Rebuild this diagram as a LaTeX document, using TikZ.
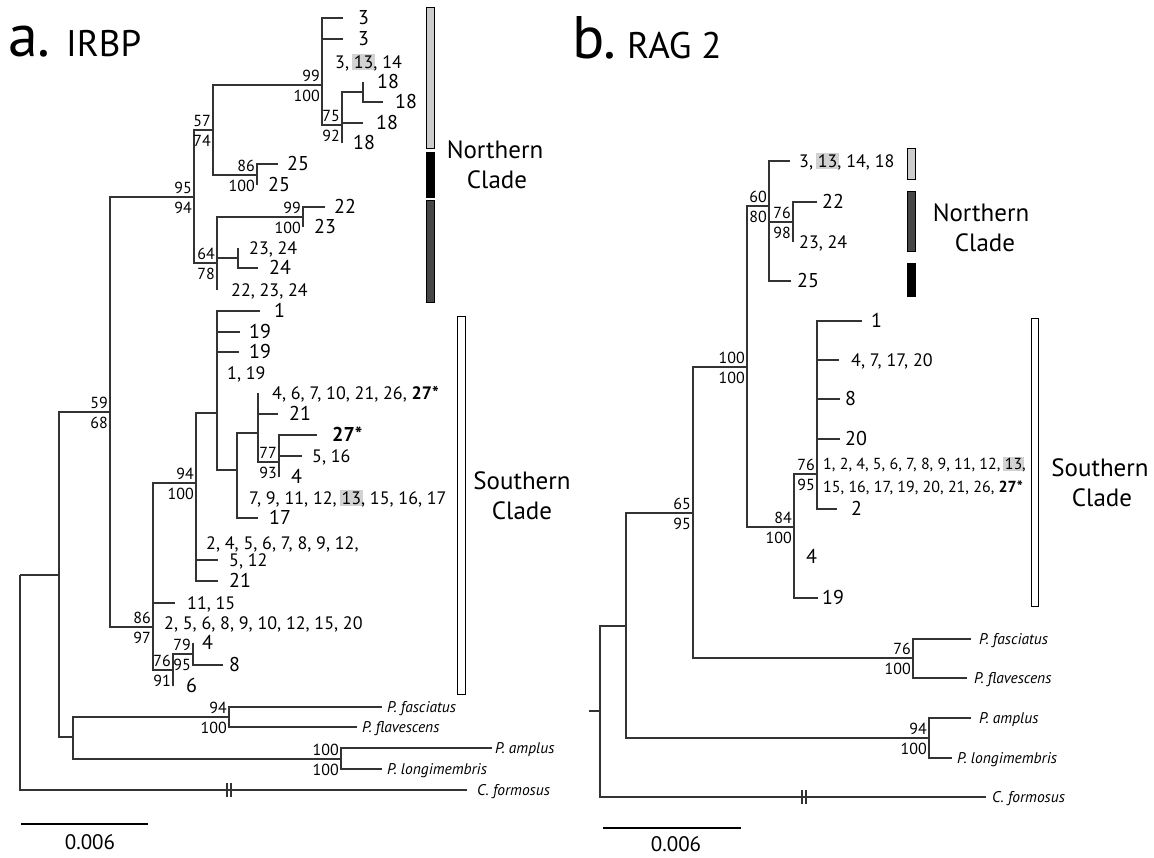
\documentclass[tikz,border=0pt]{standalone}
\usepackage{fontspec}
\setmainfont{PT Sans}
\definecolor{hlgray}{HTML}{D2D2D2}
\definecolor{lgray}{HTML}{CCCCCC}
\definecolor{dgray}{HTML}{464646}
\definecolor{brc}{HTML}{333333}
\newcommand\hlx[1]{\hspace{-1.5pt}{\setlength{\fboxsep}{1.5pt}\colorbox{hlgray}{#1}}\hspace{-1.5pt}}
\newcommand\Lg[1]{{\fontsize{20}{22}\selectfont #1}}
% leaf with branch: parent, name, tipx, y, labelx, text
\newcommand\tleaf[6]{\coordinate (#2t) at (#3,#4); \node[lf] (#2) at (#5,#4) {#6}; \draw[br] (#1) |- (#2t);}
% zero-length leaf: parent, name, labelx, y, text
\newcommand\tzero[5]{\node[lf] (#2) at (#3,#4) {#5}; \draw[br] (#1) -- (#1 |- #2);}
% species leaf
\newcommand\tspec[6]{\coordinate (#2t) at (#3,#4); \node[spc] (#2) at (#5,#4) {#6}; \draw[br] (#1) |- (#2t);}
% support values
\newcommand\tsup[3]{\node[bsu] (#1u) at ([xshift=-2pt,yshift=3pt]#1) {#2}; \node[bsd] (#1d) at ([xshift=-2pt,yshift=-5pt]#1) {#3};}
\begin{document}
\begin{tikzpicture}[x=1pt,y=-1pt,
  br/.style={line width=1.2pt, draw=brc},
  thk/.style={line width=2.4pt, draw=brc},
  lf/.style={anchor=west, inner sep=0pt, font=\fontsize{18}{20}\selectfont, text height=13pt, text depth=0pt},
  lftwo/.style={anchor=west, inner sep=0pt, align=left, font=\fontsize{16}{23}\selectfont},
  spc/.style={anchor=west, inner sep=0pt, font=\fontsize{15.5}{17}\selectfont\itshape, text height=10.8pt, text depth=0pt},
  bsu/.style={anchor=south east, inner sep=0pt, font=\fontsize{16}{17}\selectfont, text height=11.2pt, text depth=0pt},
  bsd/.style={anchor=north east, inner sep=0pt, font=\fontsize{16}{17}\selectfont, text height=11.2pt, text depth=0pt},
  clade/.style={anchor=base, inner sep=0pt, font=\fontsize{25}{28}\selectfont},
  bar/.style={line width=0.9pt, draw=black},
  sbar/.style={line width=1.5pt, draw=black},
  sclab/.style={anchor=base, inner sep=0pt, font=\fontsize{21}{23}\selectfont, text depth=0pt}
]
\fill[white] (0,0) rectangle (1154,857);
\useasboundingbox (0,0) rectangle (1154,857);

% ================= titles
\node[anchor=base west, inner sep=0pt, font=\fontsize{60}{60}\selectfont] (ta) at (8,56) {a.};
\node[anchor=base west, inner sep=0pt, font=\fontsize{37}{37}\selectfont] (tai) at (66,56) {IRBP};
\node[anchor=base west, inner sep=0pt, font=\fontsize{60}{60}\selectfont] (tb) at (572,58) {b.};
\node[anchor=base west, inner sep=0pt, font=\fontsize{37}{37}\selectfont] (tbi) at (627,58) {RAG 2};

% ================= panel a internal nodes
\coordinate (a0) at (20,575);
\coordinate (a1) at (59,575);
\coordinate (a59) at (110,412);
\coordinate (a95) at (194,197);
\coordinate (a57) at (213,130);
\coordinate (a99) at (322,85);
\coordinate (a75) at (342,125);
\coordinate (a18) at (363,92);
\coordinate (a86b) at (257,175);
\coordinate (a64) at (217,263);
\coordinate (a99b) at (303,217);
\coordinate (a2324) at (238,258);
\coordinate (a86) at (153,627);
\coordinate (a94) at (196,483);
\coordinate (asa) at (217,413);
\coordinate (ab) at (237,470);
\coordinate (ac) at (258,433);
\coordinate (ad) at (279,462);
\coordinate (a76) at (173,670);
\coordinate (a79) at (193,654);
\coordinate (aout) at (73,737);
\coordinate (afas) at (229,717);
\coordinate (aamp) at (341,759);

\draw[br] (a0) |- (a1);
\draw[br] (a1) |- (a59);
\draw[br] (a1) |- (aout);
\draw[br] (a59) |- (a95);
\draw[br] (a59) |- (a86);
\draw[br] (a95) |- (a57);
\draw[br] (a95) |- (a64);
\draw[br] (a57) |- (a99);
\draw[br] (a57) |- (a86b);
\draw[br] (a99) |- (a75);
\draw[br] (a75) |- (a18);
\draw[br] (a64) |- (a99b);
\draw[br] (a64) |- (a2324);
\draw[br] (a86) |- (a94);
\draw[br] (a86) |- (a76);
\draw[br] (a94) |- (asa);
\draw[br] (asa) |- (ab);
\draw[br] (ab) |- (ac);
\draw[br] (ac) |- (ad);
\draw[br] (a76) |- (a79);
\draw[br] (aout) |- (afas);
\draw[br] (aout) |- (aamp);

% leaves panel a
\tleaf{a99}{a3a}{343}{18}{358}{\Lg{3}}
\tleaf{a99}{a3b}{343}{39}{358}{\Lg{3}}
\tzero{a99}{a3c}{335}{62}{3, \hlx{13}, 14}
\tzero{a18}{a18a}{377}{82}{\Lg{18}}
\tleaf{a18}{a18b}{383}{102}{395}{\Lg{18}}
\tleaf{a75}{a18c}{363}{123}{376}{\Lg{18}}
\tzero{a75}{a18d}{353}{143}{\Lg{18}}
\tleaf{a86b}{a25a}{278}{164}{287}{\Lg{25}}
\tzero{a86b}{a25b}{268}{185}{\Lg{25}}
\tleaf{a99b}{a22}{325}{207}{334}{\Lg{22}}
\tzero{a99b}{a23}{314}{227}{\Lg{23}}
\tzero{a2324}{a2324l}{249}{248}{23, 24}
\tleaf{a2324}{a24}{258}{268}{269}{\Lg{24}}
\tzero{a64}{a222324}{231}{290}{22, 23, 24}
\tleaf{asa}{a1a}{260}{311}{274}{\Lg{1}}
\tleaf{asa}{a19a}{240}{332}{249}{\Lg{19}}
\tleaf{asa}{a19b}{239}{352}{249}{\Lg{19}}
\tzero{asa}{a119}{227}{373}{1, 19}
\tzero{ac}{a4627}{272}{393}{4, 6, 7, 10, 21, 26, \textbf{27*}}
\tleaf{ac}{a21a}{278}{414}{289}{\Lg{21}}
\tleaf{ad}{a27}{317}{435}{332}{\Lg{\textbf{27*}}}
\tleaf{ad}{a516}{302}{456}{312}{5, 16}
\tzero{ad}{a4a}{291}{477}{\Lg{4}}
\tzero{ab}{a79l}{249}{498}{7, 9, 11, 12, \hlx{13}, 15, 16, 17}
\tleaf{ab}{a17}{258}{518}{269}{\Lg{17}}
\tzero{a94}{a245}{206}{543}{2, 4, 5, 6, 7, 8, 9, 12,}
\tleaf{a94}{a512}{218}{560}{229}{5, 12}
\tleaf{a94}{a21b}{218}{581}{229}{\Lg{21}}
\tleaf{a86}{a1115}{175}{603}{187}{11, 15}
\tzero{a86}{a256}{164}{623}{2, 5, 6, 8, 9, 10, 12, 15, 20}
\tzero{a79}{a4b}{202}{643}{\Lg{4}}
\tleaf{a79}{a8}{223}{665}{229}{\Lg{8}}
\tzero{a76}{a6}{186}{686}{\Lg{6}}

\tspec{afas}{afasc}{382}{707}{387}{P. fasciatus}
\tspec{afas}{aflav}{357}{727}{362}{P. flavescens}
\tspec{aamp}{aampl}{492}{748}{495}{P. amplus}
\tspec{aamp}{alongi}{382}{769}{387}{P. longimembris}
\tspec{a0}{acfor}{467}{790}{477}{C. formosus}

% thick short segments
\draw[thk] (322,40) -- (322,60);
\draw[thk] (217,237) -- (217,258);
\draw[thk] (217,321) -- (217,334);
\draw[thk] (217,345) -- (217,372);
\draw[thk] (153,560) -- (153,603);
% break marks
\draw[br] (227,783) -- (227,797);
\draw[br] (231,783) -- (231,797);

% support panel a
\tsup{a95}{95}{94}
\tsup{a57}{57}{74}
\tsup{a99}{99}{100}
\tsup{a75}{75}{92}
\tsup{a86b}{86}{100}
\tsup{a64}{64}{78}
\tsup{a99b}{99}{100}
\tsup{a59}{59}{68}
\tsup{a94}{94}{100}
\tsup{ad}{77}{93}
\tsup{a86}{86}{97}
\tsup{a76}{76}{91}
\tsup{a79}{79}{95}
\tsup{afas}{94}{100}
\tsup{aamp}{100}{100}

% bars panel a
\draw[bar, fill=lgray] (426,7) rectangle (434,148);
\draw[bar, fill=black] (426,152) rectangle (434,197);
\draw[bar, fill=dgray] (426,200) rectangle (434,302);
\draw[bar, fill=white] (457,316) rectangle (465,694);
\node[clade] (anorth) at (495,158) {Northern};
\node[clade] (anorthc) at (497,188) {Clade};
\node[clade] (asouth) at (522,489) {Southern};
\node[clade] (asouthc) at (522,519) {Clade};

% scale bar a
\coordinate (sa1) at (21,824); \coordinate (sa2) at (148,824);
\draw[sbar] (sa1) -- (sa2);
\node[sclab] (sal) at (90,849) {0.006};

% ================= panel b
\coordinate (bstub) at (589,711);
\coordinate (b0) at (600,711);
\coordinate (b1) at (626,626);
\coordinate (b65) at (693,513);
\coordinate (b100) at (747,367);
\coordinate (b60) at (769,206);
\coordinate (b76a) at (793,222);
\coordinate (b84) at (794,527);
\coordinate (b76b) at (817,474);
\coordinate (bfas) at (913,658);
\coordinate (bamp) at (929,738);

\draw[br] (bstub) -- (b0);
\draw[br] (b0) |- (b1);
\draw[br] (b1) |- (b65);
\draw[br] (b1) |- (bamp);
\draw[br] (b65) |- (b100);
\draw[br] (b65) |- (bfas);
\draw[br] (b100) |- (b60);
\draw[br] (b100) |- (b84);
\draw[br] (b60) |- (b76a);
\draw[br] (b84) |- (b76b);

\tleaf{b60}{b3}{790}{161}{799}{3, \hlx{13}, 14, 18}
\tleaf{b76a}{b22}{817}{202}{822}{\Lg{22}}
\tzero{b76a}{b2324}{799}{242}{23, 24}
\tleaf{b60}{b25}{791}{281}{797}{\Lg{25}}
\tleaf{b76b}{b1l}{862}{321}{871}{\Lg{1}}
\tleaf{b76b}{b4717}{839}{360}{851}{4, 7, 17, 20}
\tleaf{b76b}{b8}{840}{399}{845}{\Lg{8}}
\tleaf{b76b}{b20}{840}{439}{845}{\Lg{20}}
\node[lftwo] (bbig) at (823,476) {1, 2, 4, 5, 6, 7, 8, 9, 11, 12, \hlx{13},\\15, 16, 17, 19, 20, 21, 26, \textbf{27*}};
\draw[br] (b76b) -- (b76b |- bbig);
\tleaf{b76b}{b2}{837}{509}{851}{\Lg{2}}
\tzero{b84}{b4}{806}{557}{\Lg{4}}
\tleaf{b84}{b19}{818}{598}{822}{\Lg{19}}

\tspec{bfas}{bfasc}{971}{639}{979}{P. fasciatus}
\tspec{bfas}{bflav}{967}{678}{974}{P. flavescens}
\tspec{bamp}{bampl}{971}{718}{979}{P. amplus}
\tspec{bamp}{blongi}{952}{758}{957}{P. longimembris}
\tspec{b0}{bcfor}{986}{797}{992}{C. formosus}

\draw[thk] (769,225) -- (769,252);
\draw[thk] (817,340) -- (817,354);
\draw[thk] (794,556) -- (794,578);
\draw[br] (802,790) -- (802,804);
\draw[br] (806,790) -- (806,804);

\tsup{b60}{60}{80}
\tsup{b76a}{76}{98}
\tsup{b100}{100}{100}
\tsup{b84}{84}{100}
\tsup{b76b}{76}{95}
\tsup{b65}{65}{95}
\tsup{bfas}{76}{100}
\tsup{bamp}{94}{100}

\draw[bar, fill=lgray] (907,148) rectangle (915,179);
\draw[bar, fill=dgray] (907,191) rectangle (915,251);
\draw[bar, fill=black] (907,263) rectangle (915,296);
\draw[bar, fill=white] (1031,318) rectangle (1038,606);
\node[clade] (bnorth) at (981,221) {Northern};
\node[clade] (bnorthc) at (985,251) {Clade};
\node[clade] (bsouth) at (1100,476) {Southern};
\node[clade] (bsouthc) at (1102,506) {Clade};

\coordinate (sb1) at (603,828); \coordinate (sb2) at (741,828);
\draw[sbar] (sb1) -- (sb2);
\node[sclab] (sbl) at (676,851) {0.006};
\end{tikzpicture}
\end{document}
